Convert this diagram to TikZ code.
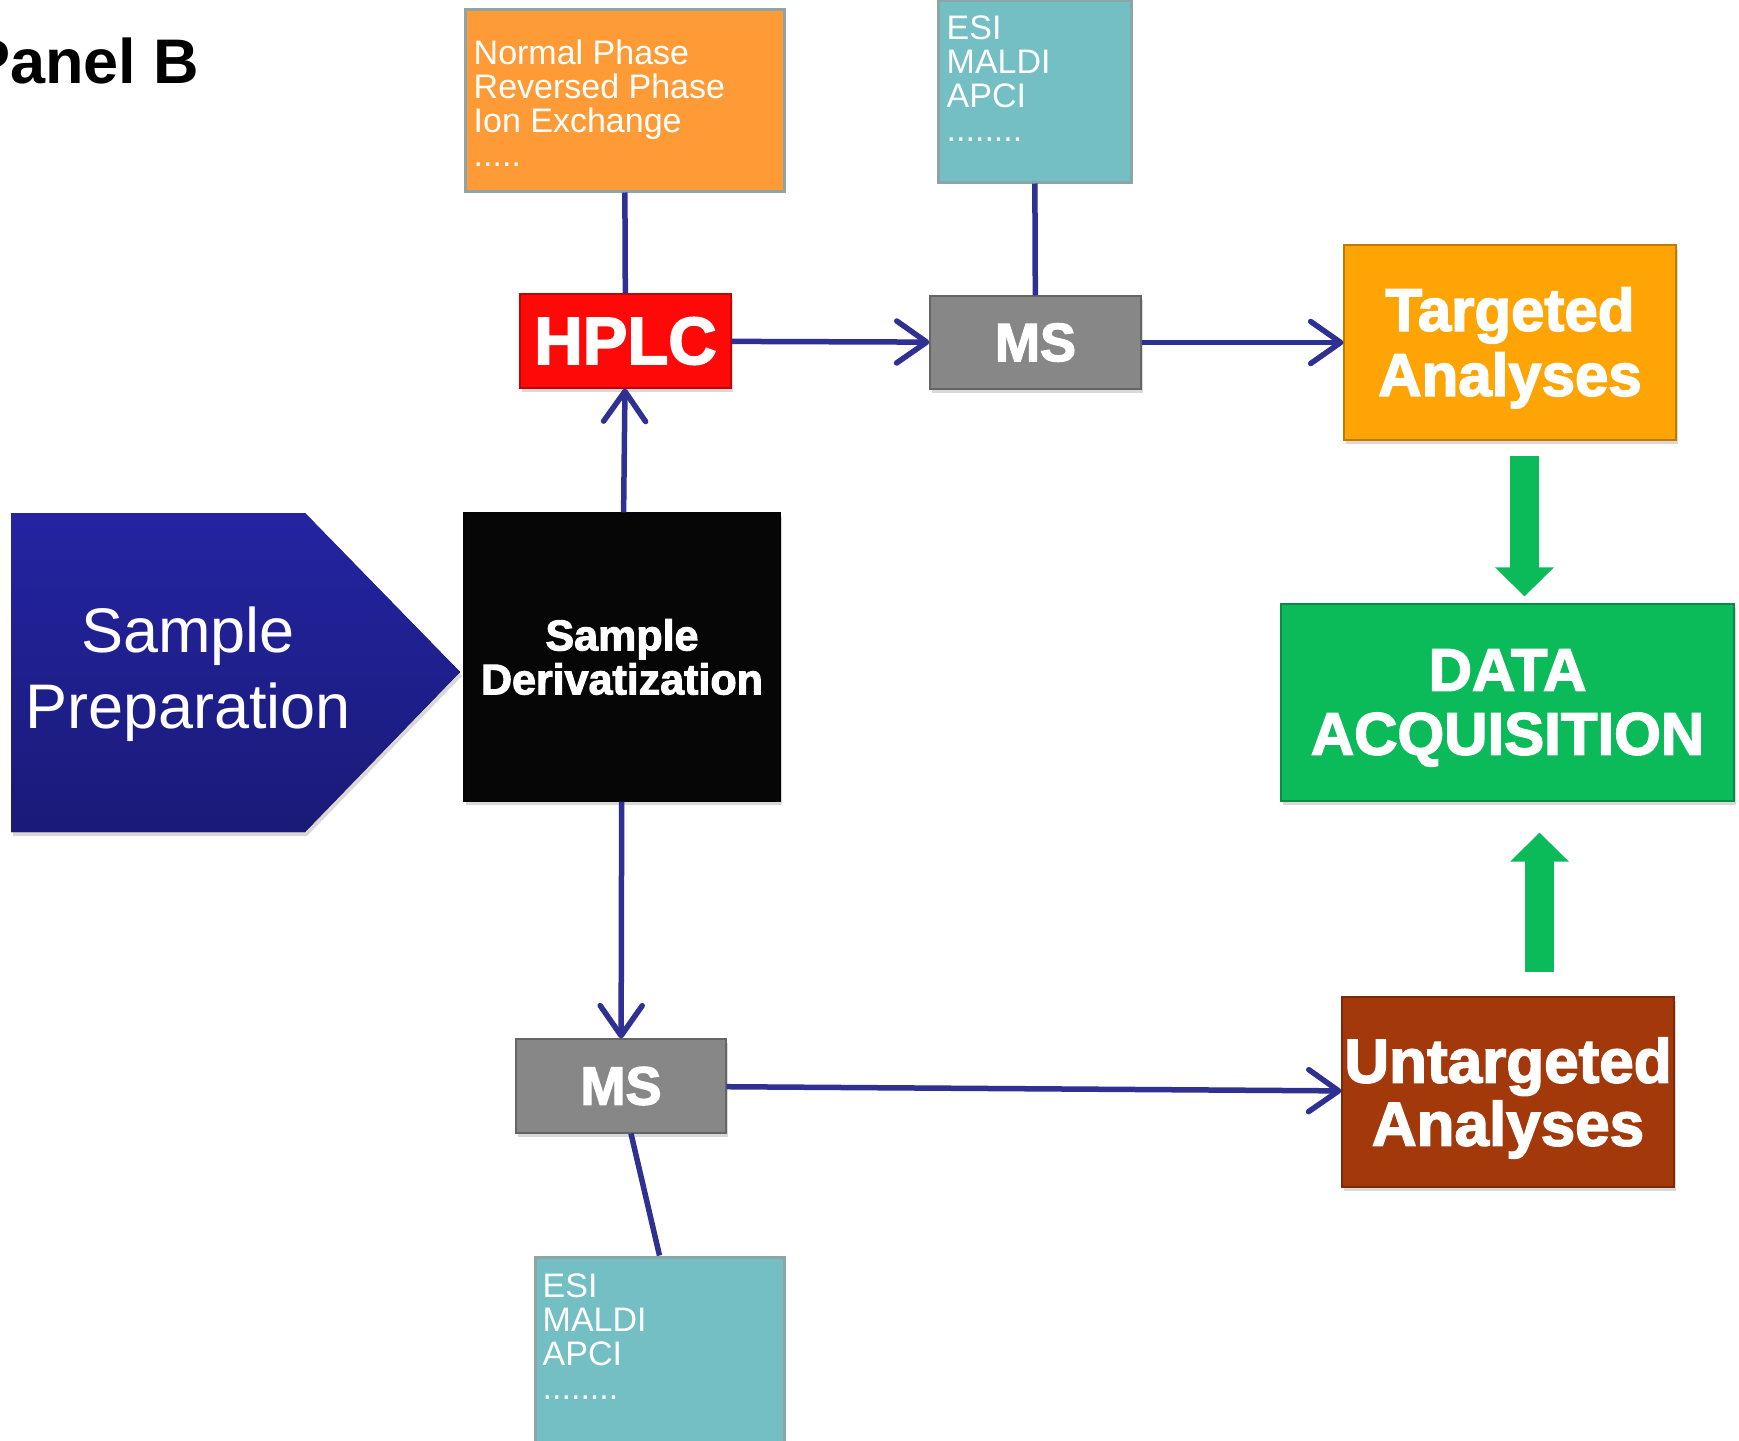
\documentclass[tikz,border=0pt]{standalone}
\usepackage{fontspec}
\setmainfont{Liberation Sans}
\newfontfamily\heavyfont[FakeBold=2.5]{Liberation Sans Bold}
\usetikzlibrary{arrows.meta,shadows}

\definecolor{link blue}{HTML}{2E3192}
\definecolor{box rim}{HTML}{8CA6A8}
\definecolor{lc orange}{HTML}{FF9B37}
\definecolor{ion teal}{HTML}{73BFC4}
\definecolor{hplc red}{HTML}{FF0808}
\definecolor{ms gray}{HTML}{878787}
\definecolor{target orange}{HTML}{FFA405}
\definecolor{acq green}{HTML}{0BBA58}
\definecolor{untarget brown}{HTML}{A3380A}
\definecolor{deriv black}{HTML}{060606}
\definecolor{prep top}{HTML}{2424A2}
\definecolor{prep bottom}{HTML}{1A1A78}

\def\heavy#1{\heavyfont\fontsize{#1}{1.08\dimexpr#1pt\relax}\selectfont}
\def\padtop#1{\rule{0pt}{#1pt}}

\tikzset{
  block/.style={rectangle, inner sep=0pt, fill=#1, draw=#1!75!black, line width=1.2pt,
    text=white, align=center,
    drop shadow={opacity=0.3, shadow xshift=2pt, shadow yshift=-4pt}},
  listbox/.style={rectangle, draw=box rim, line width=3pt, inner sep=0pt, fill=#1},
  listtext/.style={text=white, align=left, inner sep=0pt, anchor=north west,
    font=\fontsize{34}{34}\selectfont}
  }
\tikzstyle{edge} = [draw=link blue, line width=5.5pt]
\tikzstyle{flow} = [edge, -{Straight Barb[length=30pt,width=42pt,round]}]
\tikzstyle{fat arrow} = [draw=acq green, line width=29pt, -{Triangle[length=29pt,width=57pt]}]

\begin{document}
\begin{tikzpicture}[x=1pt, y=-1pt]
  \fill[white] (0,0) rectangle (1739,1440);
  \useasboundingbox (0,0) rectangle (1739,1440);

  \node[anchor=base east, font=\bfseries\fontsize{63}{76}\selectfont] (panel) at (203,83) {Panel B};

  % sample preparation
  \fill[top color=prep top, bottom color=prep bottom,
    drop shadow={opacity=0.3, shadow xshift=2pt, shadow yshift=-4pt}]
    (11,513) -- (305,513) -- (460,672) -- (305,832) -- (11,832) -- cycle;
  \node[text=white, align=center, font=\fontsize{63}{76}\selectfont] (prep) at (188,670)
    {\padtop{54}Sample\\Preparation};

  % side lists
  \node[listbox=lc orange, minimum width=319pt, minimum height=182pt] (phases) at (624.5,100) {};
  \node[listtext] (phaselist) at ([shift={(10pt,-32pt)}]phases.north west)
    {Normal Phase\\Reversed Phase\\Ion Exchange\\.....};
  \node[listbox=ion teal, minimum width=193pt, minimum height=182pt] (source1) at (1034.5,91) {};
  \node[listtext] (sourcelist1) at ([shift={(10pt,-17pt)}]source1.north west)
    {ESI\\MALDI\\APCI\\........};
  \node[listbox=ion teal, minimum width=249pt, minimum height=200pt] (source2) at (659.5,1357) {};
  \node[listtext] (sourcelist2) at ([shift={(9pt,-18pt)}]source2.north west)
    {ESI\\MALDI\\APCI\\........};

  % main blocks
  \node[block=hplc red, minimum width=211pt, minimum height=94pt, font=\heavy{67}] (hplc) at (625.5,341) {HPLC};
  \node[block=ms gray, minimum width=211pt, minimum height=93pt, font=\heavy{54}] (ms1) at (1035.5,342.5) {MS};
  \node[block=ms gray, minimum width=210pt, minimum height=94pt, font=\heavy{54}] (ms2) at (621,1086) {MS};
  \node[block=deriv black, minimum width=316pt, minimum height=288pt, font=\heavyfont\fontsize{43}{44}\selectfont] (deriv) at (622,657)
    {Sample\\Derivatization};
  \node[block=target orange, minimum width=332pt, minimum height=195pt, font=\heavyfont\fontsize{60}{65}\selectfont] (targeted) at (1510,342.5)
    {\padtop{54}Targeted\\Analyses};
  \node[block=acq green, minimum width=453pt, minimum height=197pt, font=\heavyfont\fontsize{60}{64}\selectfont] (data) at (1507.5,702.5)
    {\padtop{52}DATA\\ACQUISITION};
  \node[block=untarget brown, minimum width=332pt, minimum height=190pt, font=\heavyfont\fontsize{62}{63}\selectfont] (untargeted) at (1508,1092)
    {\padtop{57}Untargeted\\Analyses};

  % connectors
  \path[edge] (phases) -- (hplc);
  \path[edge] (source1) -- (ms1);
  \path[edge] ([xshift=10pt]ms2.south) -- (source2.north);
  \foreach \from/\to in {deriv/hplc, hplc/ms1, ms1/targeted, deriv/ms2, ms2/untargeted} {
    \path[flow] (\from) -- (\to);
  }

  \draw[fat arrow] ([xshift=14.5pt,yshift=-15pt]targeted.south) -- ([xshift=17pt,yshift=7pt]data.north);
  \draw[fat arrow] ([xshift=31.5pt,yshift=24pt]untargeted.north) -- ([xshift=32pt,yshift=-31pt]data.south);
\end{tikzpicture}
\end{document}
